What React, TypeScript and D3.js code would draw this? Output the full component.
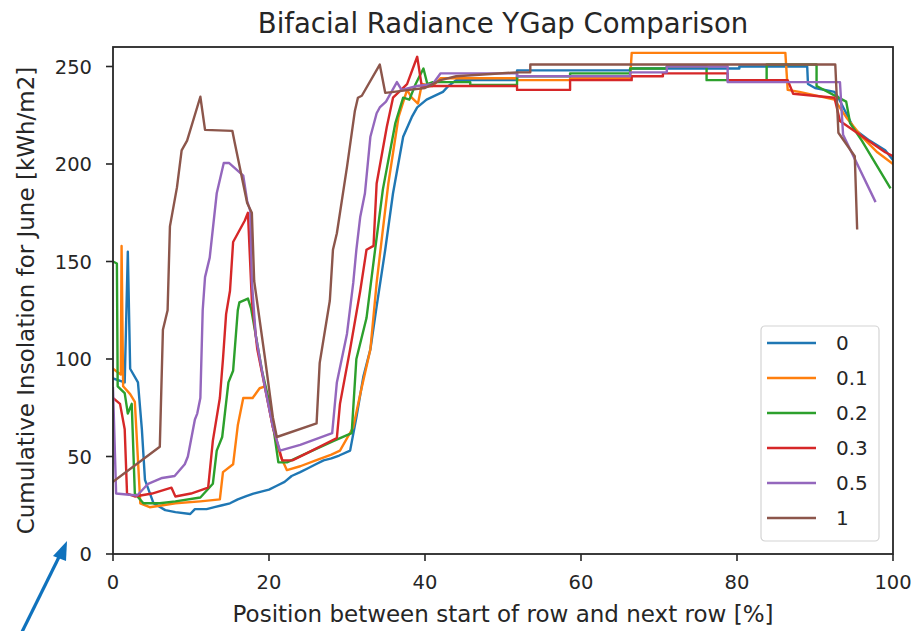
import React from "react";
import * as d3 from "d3";

type Pt = [number, number];

const seriesLabels = ["0", "0.1", "0.2", "0.3", "0.5", "1"];
const seriesColors = ["#1f77b4", "#ff7f0e", "#2ca02c", "#d62728", "#9467bd", "#8c564b"];
const xTicks = [0, 20, 40, 60, 80, 100];
const yTicks = [0, 50, 100, 150, 200, 250];

const gap0: Pt[] = [
  [0, 90], [1.5, 88], [1.9, 155], [2.2, 95], [3.2, 88], [3.7, 64], [4.1, 38], [5.2, 26], [6.7, 22.5], [8, 21.5],
  [9.9, 20.5], [10.5, 23], [12, 23], [13, 24], [14, 25], [15, 26], [16, 28], [17, 29.5], [18, 31], [19, 32],
  [20, 33], [21, 35], [22, 37], [22.9, 40], [24, 42], [25, 44], [26, 46], [27, 48], [28, 49], [29, 50.5],
  [30.4, 53], [31.2, 70], [32.1, 91], [33, 105], [33.8, 127], [34.9, 156], [35.9, 185], [37.2, 214], [38.3, 224],
  [39, 229], [40.2, 233], [42.3, 237], [43, 240], [44, 243], [51.8, 243], [51.8, 248], [66.3, 248], [66.3, 249],
  [80.3, 249], [80.3, 250], [89, 250], [89.1, 241], [90, 239], [92.5, 237], [93, 234], [94, 226], [95, 218],
  [97, 212], [99, 207], [100, 202],
];

const gap01: Pt[] = [
  [0, 95], [1.0, 92], [1.1, 158], [1.3, 86], [2.2, 82], [2.8, 78], [3.5, 26], [4.7, 24], [6.4, 25], [8, 26],
  [11.2, 27], [13.7, 28], [14.1, 42], [15.4, 46], [16, 66], [16.7, 80], [17.9, 80], [18.8, 85], [19.5, 86],
  [20.5, 65], [21.5, 50], [22.3, 43], [24, 45], [26, 48], [28, 51], [29.1, 53], [30.8, 65], [31.7, 82], [33, 105],
  [33.8, 139], [34.5, 163], [35.3, 190], [36.6, 224], [37.7, 238], [38.3, 234], [39.1, 231], [39.6, 241], [41, 240],
  [42, 244], [51.8, 244], [51.8, 243], [58.6, 243], [58.6, 244], [66.3, 244], [66.5, 257], [86.2, 257], [86.5, 238],
  [88, 237], [92.5, 233], [94, 224], [96, 214], [98, 206], [100, 200],
];

const gap02: Pt[] = [
  [0, 150], [0.5, 149], [0.6, 86], [1.5, 82.5], [1.9, 72], [2.4, 77], [2.8, 31], [3.9, 26], [6, 26], [8, 27],
  [11.2, 29], [12.8, 36], [13.3, 53], [14, 60], [14.8, 88], [15.4, 94], [16, 125], [16.2, 129], [17.3, 131],
  [17.7, 126], [19.1, 94], [20.2, 75], [21.2, 47], [22.3, 47], [25, 52], [28.3, 58], [30.6, 62], [31.2, 100],
  [32.5, 121], [33.6, 156], [34.6, 187], [36.2, 221], [37.2, 234], [38, 233], [38.8, 241], [39.8, 249], [40.3, 241],
  [41, 242], [45.8, 242], [45.8, 240.5], [51.8, 240.5], [51.8, 245], [58.6, 245], [58.6, 246.5], [66.3, 246.5],
  [66.3, 249], [71, 249], [71, 250], [76.1, 250], [76.1, 243], [83.8, 243], [83.8, 251], [90.2, 251], [90.2, 240],
  [94, 232], [94.5, 221], [96, 212], [99.6, 188],
];

const gap03: Pt[] = [
  [0, 80], [0.9, 77], [1.5, 64], [1.8, 31], [2.8, 29.5], [5, 31], [7.5, 34], [8, 29.5], [10, 31], [12.2, 34],
  [12.8, 58], [13.7, 80], [14.1, 100], [14.5, 123], [15, 135], [15.4, 160], [16.9, 171], [17.3, 175], [17.8, 130],
  [18.5, 105], [19.5, 85], [20.5, 65], [21.7, 48], [23, 48], [25, 52], [28.7, 59.5], [29.1, 77], [30.4, 105],
  [31.7, 135], [32.5, 156], [33.4, 158], [33.8, 190], [35.1, 219], [35.9, 234], [37.7, 241], [39, 255], [39.6, 239.5],
  [41, 240], [51.8, 240], [51.8, 238], [58.6, 238], [58.6, 243], [66.5, 243], [66.5, 245], [70.5, 245], [70.5, 246.5],
  [78.8, 246.5], [78.8, 243], [86.5, 243], [87.2, 236], [92.5, 234], [93.2, 222], [99, 206], [100, 204],
];

const gap05: Pt[] = [
  [0, 85], [0.4, 31], [3.1, 30], [4.5, 36], [6.3, 39], [7.9, 40], [9.2, 46], [9.6, 50], [10.5, 69], [10.8, 72],
  [11.2, 80], [11.5, 125], [11.8, 142], [12.4, 152], [13.3, 185], [14.2, 200.5], [14.9, 200.5], [16.7, 194],
  [17.2, 181], [17.6, 176], [17.8, 140], [18.3, 112], [19.5, 85], [20.5, 65], [21.4, 53], [24, 56], [28.1, 62],
  [28.7, 88], [30, 113], [30.8, 139], [31.2, 156], [31.7, 173], [32.3, 185], [33, 214], [33.8, 226], [34.2, 229],
  [35, 232], [36.4, 242], [37, 238], [39, 240], [41, 241], [42, 246.5], [51.8, 246.5], [51.8, 245], [66.3, 245],
  [66.3, 247], [71, 247], [71, 250], [78.8, 250], [78.8, 242], [93.2, 242], [93.6, 215], [97.7, 181],
];

const gap1: Pt[] = [
  [0, 37], [6, 55], [6.4, 115], [7, 125], [7.3, 168], [8.2, 188], [8.8, 207], [9.5, 212], [11.2, 234.5],
  [11.8, 217.5], [15.3, 217], [15.6, 211], [17.2, 180], [17.8, 175], [18.1, 140], [19.5, 100], [20.5, 70], [21, 60],
  [26.1, 67], [26.5, 98], [27.8, 130], [28.2, 156], [28.7, 164.5], [30, 198.5], [31, 227], [31.4, 234], [31.9, 235],
  [34.2, 251], [34.9, 236.5], [36, 237], [38, 238], [40, 239], [42, 243], [44, 245], [51.8, 247], [53.5, 247],
  [53.5, 251], [92.6, 251], [93, 216], [95.1, 204], [95.4, 167],
];

const allSeries = [gap0, gap01, gap02, gap03, gap05, gap1];

const W = 917;
const H = 631;
const left = 113;
const right = 893;
const top = 47;
const bottom = 554;
const FONT = "'DejaVu Sans', sans-serif";
const TXT = "#262626";

export default function App() {
  const x = d3.scaleLinear().domain([0, 100]).range([left, right]);
  const y = d3.scaleLinear().domain([0, 260]).range([bottom, top]);
  const line = d3
    .line<Pt>()
    .x((d) => x(d[0]))
    .y((d) => y(d[1]));

  const legX = 761;
  const legY = 326;
  const rowY = (i: number) => 343 + i * 35;

  return (
    <svg
      width={W}
      height={H}
      viewBox={`0 0 ${W} ${H}`}
      style={{ position: "absolute", left: 0, top: 0, background: "#fff" }}
    >
      <defs>
        <clipPath id="plotclip">
          <rect x={left} y={top} width={right - left} height={bottom - top} />
        </clipPath>
      </defs>
      <rect x={0} y={0} width={W} height={H} fill="#fff" />

      {/* title */}
      <text x={(left + right) / 2} y={33} textAnchor="middle" fontFamily={FONT} fontSize={27.5} fill={TXT}>
        Bifacial Radiance YGap Comparison
      </text>

      {/* data lines */}
      <g clipPath="url(#plotclip)">
        {allSeries.map((s, i) => (
          <path
            key={i}
            d={line(s) || ""}
            fill="none"
            stroke={seriesColors[i]}
            strokeWidth={2.4}
            strokeLinejoin="round"
            strokeLinecap="square"
          />
        ))}
      </g>

      {/* spines */}
      <rect x={left} y={top} width={right - left} height={bottom - top} fill="none" stroke="#262626" strokeWidth={1.8} />

      {/* x ticks */}
      {xTicks.map((t) => (
        <g key={"x" + t}>
          <line x1={x(t)} x2={x(t)} y1={bottom} y2={bottom + 7} stroke="#262626" strokeWidth={1.6} />
          <text x={x(t)} y={589} textAnchor="middle" fontFamily={FONT} fontSize={19.5} fill={TXT}>
            {t}
          </text>
        </g>
      ))}

      {/* y ticks */}
      {yTicks.map((t) => (
        <g key={"y" + t}>
          <line x1={left - 7} x2={left} y1={y(t)} y2={y(t)} stroke="#262626" strokeWidth={1.6} />
          <text x={92} y={y(t)} dy="0.36em" textAnchor="end" fontFamily={FONT} fontSize={19.5} fill={TXT}>
            {t}
          </text>
        </g>
      ))}

      {/* axis labels */}
      <text x={(left + right) / 2} y={622} textAnchor="middle" fontFamily={FONT} fontSize={23} fill={TXT}>
        Position between start of row and next row [%]
      </text>
      <text
        transform={`translate(34, ${(top + bottom) / 2}) rotate(-90)`}
        textAnchor="middle"
        fontFamily={FONT}
        fontSize={23}
        fill={TXT}
      >
        Cumulative Insolation for June [kWh/m2]
      </text>

      {/* legend */}
      <rect x={legX} y={legY} width={118} height={215} rx={4} fill="#fff" fillOpacity={0.8} stroke="#d4d4d4" strokeWidth={1.2} />
      {seriesLabels.map((lab, i) => (
        <g key={"leg" + i}>
          <line x1={767} x2={816} y1={rowY(i)} y2={rowY(i)} stroke={seriesColors[i]} strokeWidth={2.6} />
          <text x={836} y={rowY(i)} dy="0.36em" fontFamily={FONT} fontSize={20} fill={TXT}>
            {lab}
          </text>
        </g>
      ))}

      {/* annotation arrow */}
      <line x1={18} x2={60} y1={640} y2={555} stroke="#0f72bd" strokeWidth={3.2} />
      <path d="M 67 541 L 53 556 L 66 561 Z" fill="#0f72bd" />
    </svg>
  );
}
